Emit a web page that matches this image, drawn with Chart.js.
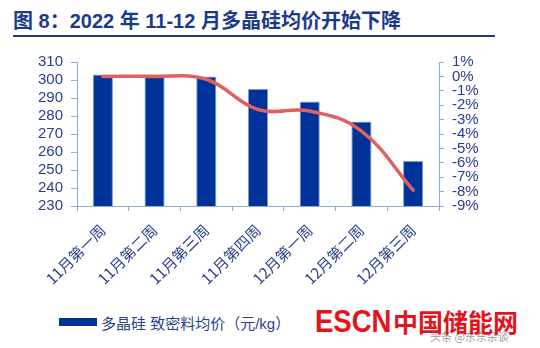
<!DOCTYPE html>
<html><head><meta charset="utf-8">
<script src="https://cdn.jsdelivr.net/npm/chart.js@4/dist/chart.umd.min.js"></script>
<style>
html,body{margin:0;padding:0;background:#fff;}
#wrap{position:relative;width:540px;height:348px;overflow:hidden;font-family:"Liberation Sans","Noto Sans CJK SC",sans-serif;}
#title{position:absolute;left:13px;top:8px;width:482px;height:27px;border-bottom:2px solid #1c3a8c;color:#1c3a8c;font:bold 20px "Liberation Sans","Noto Sans CJK SC",sans-serif;line-height:27px;white-space:nowrap;}
#cv{position:absolute;left:0;top:40px;}
#legend{position:absolute;left:59px;top:311px;height:22px;display:flex;align-items:center;color:#2c3f8c;font:15px "Liberation Sans","Noto Sans CJK SC",sans-serif;white-space:nowrap;}
#legend i{display:inline-block;width:38px;height:8px;background:#003399;margin-right:4px;}
#wm2{position:absolute;left:430px;top:328px;color:#9a9a9a;font:11px "Noto Sans CJK SC",sans-serif;white-space:nowrap;}
#wmA{position:absolute;left:315px;top:302px;color:#e3141c;font:bold 32px "Liberation Sans",sans-serif;white-space:nowrap;transform:scaleX(0.86);transform-origin:0 0;line-height:38px;}
#wmB{position:absolute;left:393px;top:304px;color:#e3141c;font:bold 25px "Noto Sans CJK SC",sans-serif;white-space:nowrap;line-height:34px;}
</style></head>
<body><div id="wrap">
<div id="title">图 8：2022 年 11-12 月多晶硅均价开始下降</div>
<canvas id="cv" width="540" height="260"></canvas>
<div id="legend"><i></i>多晶硅 致密料均价（元/kg）</div>
<div id="wm2">头条 @东东杂谈</div>
<div id="wmA">ESCN</div>
<div id="wmB">中国储能网</div>
</div>
<script>
const categories = ["11月第一周","11月第二周","11月第三周","11月第四周","12月第一周","12月第二周","12月第三周"];
const priceValues = [303, 303, 302, 295, 288, 277, 255];
const changeValues = [0, 0, -0.2, -2.3, -2.4, -3.8, -7.9];
const leftTicks = [230, 240, 250, 260, 270, 280, 290, 300, 310];
const rightTicks = [-9, -8, -7, -6, -5, -4, -3, -2, -1, 0, 1];

const axisColor = '#8eaadb';
const tickColor = '#2a3d8c';
const tickFont = {family: '"Liberation Sans","Noto Sans CJK SC",sans-serif', size: 15};

new Chart(document.getElementById('cv'), {
  data: {
    labels: categories,
    datasets: [
      {type: 'line', label: '环比', data: changeValues, yAxisID: 'y1', borderColor: '#e0605e', borderWidth: 3.5, pointRadius: 0, tension: 0.4, order: 1, borderCapStyle: 'round'},
      {type: 'bar', label: '多晶硅 致密料均价（元/kg）', data: priceValues, yAxisID: 'y', backgroundColor: '#003399', borderColor: '#7f9ad6', borderWidth: 1, barPercentage: 0.39, categoryPercentage: 1, order: 2}
    ]
  },
  options: {
    responsive: false, animation: false,
    layout: {padding: {left: 36, right: 60, top: 22, bottom: 0}},
    plugins: {legend: {display: false}, tooltip: {enabled: false}},
    scales: {
      x: {
        grid: {drawOnChartArea: false, drawTicks: true, tickLength: 5, color: axisColor, offset: true},
        border: {color: axisColor},
        ticks: {color: tickColor, font: {family: '"Noto Sans CJK SC","Liberation Sans",sans-serif', size: 15}, minRotation: 45, maxRotation: 45, padding: 10, autoSkip: false},
        afterFit: s => { s.height = 94; }
      },
      y: {
        position: 'left', min: 230, max: 310,
        afterBuildTicks: s => { s.ticks = leftTicks.map(v => ({value: v})); },
        grid: {drawOnChartArea: false, tickLength: 6, color: axisColor},
        border: {color: axisColor},
        ticks: {color: tickColor, font: tickFont, padding: 8, autoSkip: false},
        afterFit: s => { s.width = 41; }
      },
      y1: {
        position: 'right', min: -9, max: 1,
        afterBuildTicks: s => { s.ticks = rightTicks.map(v => ({value: v})); },
        grid: {drawOnChartArea: false, tickLength: 5, color: axisColor},
        border: {color: axisColor},
        ticks: {color: tickColor, font: tickFont, padding: 8, autoSkip: false, callback: v => v + '%'},
        afterFit: s => { s.width = 41; }
      }
    }
  }
});
</script>
</body></html>
